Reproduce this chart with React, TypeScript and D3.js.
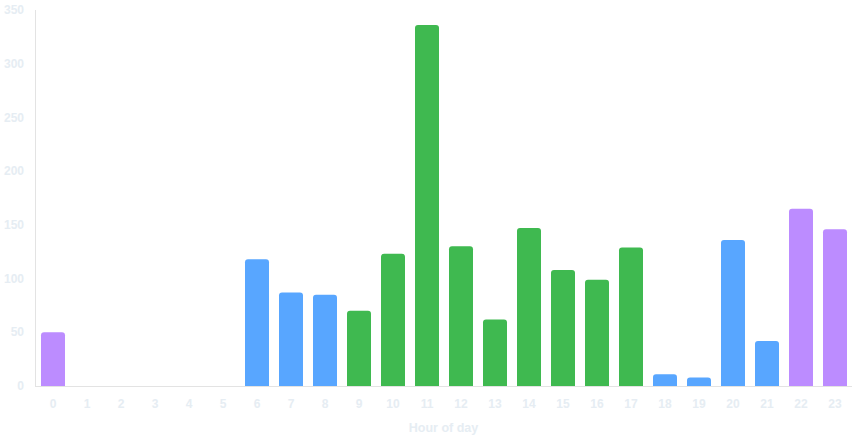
import React from "react";
import * as d3 from "d3";

const hours = Array.from({ length: 24 }, (_, i) => String(i));
const values = [50, 0, 0, 0, 0, 0, 118, 87, 85, 70, 123, 336, 130, 62, 147, 108, 99, 129, 11, 8, 136, 42, 165, 146];
const periods = ["night", "night", "night", "night", "night", "night", "morning", "morning", "morning", "day", "day", "day", "day", "day", "day", "day", "day", "day", "morning", "morning", "morning", "morning", "night", "night"];
const yTicks = [0, 50, 100, 150, 200, 250, 300, 350];
const colors: Record<string, string> = { night: "#bc8cff", morning: "#58a6ff", day: "#3fb950" };

const W = 852, H = 440;
const M = { left: 35, right: 0, top: 10, bottom: 54 };

function roundedTop(x: number, y: number, w: number, h: number, r: number) {
  if (h <= 0) return "";
  const rr = Math.min(r, h, w / 2);
  return `M${x},${y + h}V${y + rr}Q${x},${y} ${x + rr},${y}H${x + w - rr}Q${x + w},${y} ${x + w},${y + rr}V${y + h}Z`;
}

export default function App() {
  const x = d3.scaleBand().domain(hours).range([M.left + 1, W - M.right]).paddingInner(10 / 34).paddingOuter(5 / 34);
  const y = d3.scaleLinear().domain([0, 350]).range([H - M.bottom, M.top]);
  const textColor = "#e6edf3";
  const font = "'Liberation Sans', Arial, sans-serif";
  return (
    <svg width={W} height={H} style={{ position: "absolute", left: 0, top: 0 }} fontFamily={font}>
      <line x1={M.left + 0.5} x2={M.left + 0.5} y1={M.top} y2={y(0)} stroke="#e3e3e3" strokeWidth={1} />
      <line x1={M.left} x2={W - M.right} y1={y(0) + 0.5} y2={y(0) + 0.5} stroke="#e3e3e3" strokeWidth={1} />
      {yTicks.map((t) => (
        <text key={t} x={24} y={y(t)} dy="0.35em" textAnchor="end" fontSize={12} fontWeight="bold" fill={textColor}>
          {t}
        </text>
      ))}
      {hours.map((h, i) => (
        <path key={h} d={roundedTop(x(h)!, y(values[i]), x.bandwidth(), y(0) - y(values[i]), 3)} fill={colors[periods[i]]} />
      ))}
      {hours.map((h) => (
        <text key={h} x={x(h)! + x.bandwidth() / 2} y={404} dy="0.35em" textAnchor="middle" fontSize={12} fontWeight="bold" fill={textColor}>
          {h}
        </text>
      ))}
      <text x={(M.left + W - M.right) / 2} y={428} dy="0.35em" textAnchor="middle" fontSize={12.5} fontWeight="bold" fill={textColor}>
        Hour of day
      </text>
    </svg>
  );
}
